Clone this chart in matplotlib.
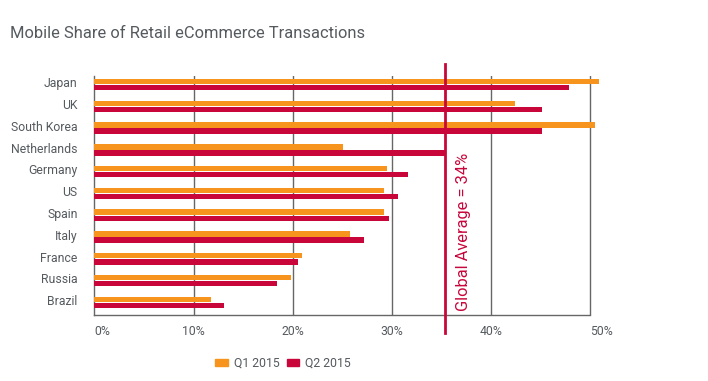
import matplotlib
matplotlib.use("Agg")
import matplotlib.pyplot as plt
import numpy as np
from matplotlib.patches import Patch

plt.rcParams['font.family'] = ['Roboto', 'DejaVu Sans']

countries = ["Japan", "UK", "South Korea", "Netherlands", "Germany", "US",
             "Spain", "Italy", "France", "Russia", "Brazil"]
q1_2015 = [50.9, 42.4, 50.5, 25.1, 29.5, 29.2, 29.2, 25.8, 20.9, 19.8, 11.75]
q2_2015 = [47.85, 45.1, 45.1, 35.4, 31.6, 30.6, 29.7, 27.2, 20.5, 18.4, 13.1]
global_avg = 35.35
avg_label = "Global Average = 34%"
xticks = [0, 10, 20, 30, 40, 50]

orange = "#F7941D"
crimson = "#C8063A"
grey = "#666666"
textc = "#555a5f"

fig = plt.figure(figsize=(7.08, 3.81), dpi=100)
ax = fig.add_axes([0.1332, 0.1732, 0.7288, 0.6273])

y = np.arange(len(countries))
h = 0.25
ax.barh(y - 0.14, q1_2015, height=h, color=orange, label="Q1 2015", zorder=3)
ax.barh(y + 0.14, q2_2015, height=h, color=crimson, label="Q2 2015", zorder=3)

ax.set_xlim(0, 52)
ax.set_ylim(10.58, -0.39)
ax.set_xticks(xticks)
ax.set_xticklabels([f"{t}%" for t in xticks])
ax.set_yticks(y - 0.1)
ax.set_yticklabels(countries)
ax.tick_params(length=0, labelsize=8.8, labelcolor=textc)
ax.tick_params(axis='x', pad=7)
ax.tick_params(axis='y', pad=12)
xl = ax.get_xticklabels()
xl[0].set_ha("left")
xl[0].set_x(-0.2)
xl[-1].set_ha("left")

for t in xticks[1:]:
    ax.axvline(t, color=grey, lw=1, zorder=1)
for s in ["top", "right"]:
    ax.spines[s].set_visible(False)
for s in ["left", "bottom"]:
    ax.spines[s].set_color(grey)
    ax.spines[s].set_linewidth(1)
ax.spines["bottom"].set_bounds(0, 50)

ax.axvline(global_avg, ymin=-0.075, ymax=1.05, color=crimson, lw=2, zorder=4, clip_on=False)
ax.text(global_avg + 1.9, 10.38, avg_label, rotation=90, ha="center", va="bottom",
        color=crimson, fontsize=11.8)

fig.text(0.014, 0.911, "Mobile Share of Retail eCommerce Transactions", fontsize=11.9,
         color=textc, ha="left", va="center")

handles = [Patch(color=orange, label="Q1 2015"), Patch(color=crimson, label="Q2 2015")]
fig.legend(handles=handles, loc="center", bbox_to_anchor=(0.40, 0.047), ncol=2, frameon=False,
           fontsize=8.8, labelcolor=textc, handlelength=1.0, handleheight=0.45,
           handletextpad=0.5, columnspacing=0.6)

fig.savefig("out.png", dpi=100)
